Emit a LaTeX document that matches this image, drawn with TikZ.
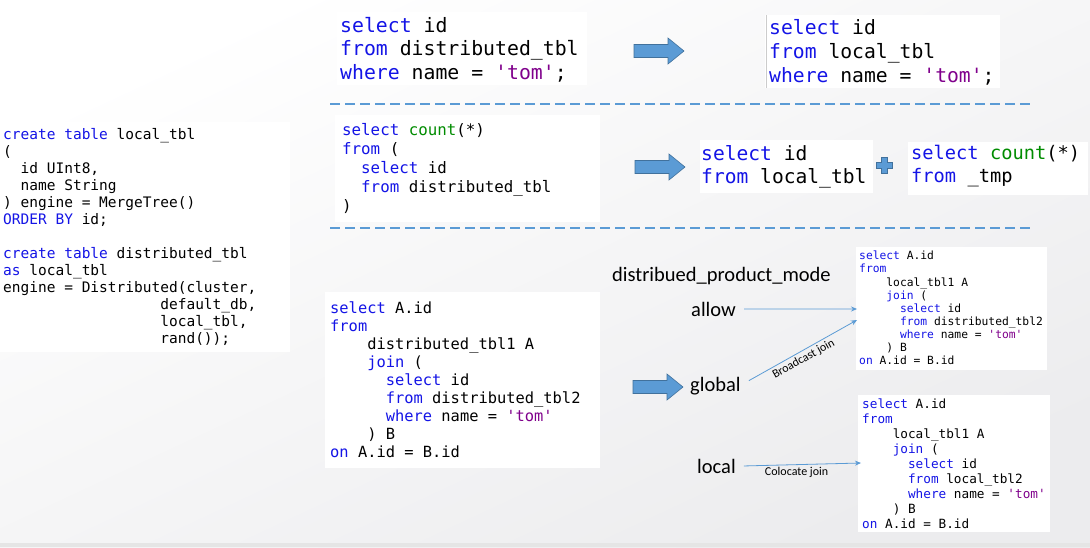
\documentclass[tikz,border=0pt]{standalone}
\usepackage{fontspec}
\newfontfamily\codefont{DejaVu Sans Mono}
\newfontfamily\labelfont{Carlito}
\usetikzlibrary{arrows.meta}
\definecolor{kwblue}{RGB}{20,20,230}
\definecolor{fngreen}{RGB}{0,140,0}
\definecolor{strpurple}{RGB}{128,0,140}
\definecolor{arrowblue}{RGB}{91,155,213}
\definecolor{arrowedge}{RGB}{65,113,156}
\definecolor{bgdark}{RGB}{236,236,238}
\newcommand\kw[1]{\textcolor{kwblue}{#1}}
\newcommand\fn[1]{\textcolor{fngreen}{#1}}
\newcommand\str[1]{\textcolor{strpurple}{\textquotesingle#1\textquotesingle}}
\newcommand\ind[1]{\hspace*{#1\fontcharwd\font`0}}
\newcommand\blockarrow[2]{%
  \draw[fill=arrowblue, draw=arrowedge, line width=0.6pt]
    (#1,{#2-6.5}) -- ({#1+34},{#2-6.5}) -- ({#1+34},{#2-13}) -- ({#1+50},#2)
    -- ({#1+34},{#2+13}) -- ({#1+34},{#2+6.5}) -- (#1,{#2+6.5}) -- cycle;}
\tikzset{
  code/.style={anchor=north west, inner sep=0pt, align=left},
  codebg/.style={fill=white, draw=none},
  lbl/.style={anchor=base west, inner sep=0pt, font={\labelfont\fontsize{20.5}{24}\selectfont}},
  thinarrow/.style={draw=arrowblue, line width=0.8pt, -{Stealth[length=6pt,width=5pt]}},
  joinlbl/.style={inner sep=2.5pt, font={\labelfont\fontsize{12}{14}\selectfont}},
  sepline/.style={draw=arrowblue, line width=1.8pt, dash pattern=on 10pt off 5pt},
}
\begin{document}
\begin{tikzpicture}[x=1pt,y=-1pt]
\useasboundingbox (0,0) rectangle (1090,547);
\shade[shading=axis, top color=white, bottom color=bgdark, shading angle=25] (0,0) rectangle (1090,547);
\fill[gray!20] (0,543) rectangle (1090,547);
% white backgrounds of code blocks
\fill[codebg] (0,122) rectangle (290,352);
\fill[codebg] (337,12) rectangle (587,85);
\fill[codebg] (765,15) rectangle (1000,88);
\draw[gray!40, line width=0.8pt] (766,15) -- (766,88);
\fill[codebg] (335,115) rectangle (600,222);
\fill[codebg] (700,140) rectangle (873,193);
\fill[codebg] (908,142) rectangle (1088,195);
\fill[codebg] (325,292) rectangle (600,468);
\fill[codebg] (856,247) rectangle (1047,370);
\fill[codebg] (858,395) rectangle (1050,532);
% left block
\node[code, font={\codefont\fontsize{14.5}{17}\selectfont}] (create) at (3,128)
{\kw{create} \kw{table} local\_tbl\\
(\\
\ind{2}id UInt8,\\
\ind{2}name String\\
) engine = MergeTree()\\
\kw{ORDER} \kw{BY} id;\\[17pt]
\kw{create} \kw{table} distributed\_tbl\\
\kw{as} local\_tbl\\
engine = Distributed(cluster,\\
\ind{18}default\_db,\\
\ind{18}local\_tbl,\\
\ind{18}rand());};
% row 1
\node[code, font={\codefont\fontsize{19.8}{23.5}\selectfont}] (q1) at (340,17)
{\kw{select} id\\
\kw{from} distributed\_tbl\\
\kw{where} name = \str{tom};};
\node[code, font={\codefont\fontsize{19.7}{24}\selectfont}] (r1) at (769,19)
{\kw{select} id\\
\kw{from} local\_tbl\\
\kw{where} name = \str{tom};};
\blockarrow{634}{51}
% separators
\coordinate (s1a) at (330,104); \coordinate (s1b) at (1030,104);
\coordinate (s2a) at (330,228); \coordinate (s2b) at (1030,228);
\draw[sepline] (s1a) -- (s1b);
\draw[sepline] (s2a) -- (s2b);
% row 2
\node[code, font={\codefont\fontsize{15.8}{19}\selectfont}] (q2) at (342,123)
{\kw{select} \fn{count}(*)\\
\kw{from} (\\
\ind{2}\kw{select} id\\
\ind{2}\kw{from} distributed\_tbl\\
)};
\blockarrow{635}{167}
\node[code, font={\codefont\fontsize{19.6}{23}\selectfont}] (r2a) at (701,145)
{\kw{select} id\\
\kw{from} local\_tbl};
\draw[fill=arrowblue, draw=arrowedge, line width=0.5pt]
  (881,157) -- (887,157) -- (887,162) -- (892,162) -- (892,168) -- (887,168)
  -- (887,173) -- (881,173) -- (881,168) -- (876,168) -- (876,162) -- (881,162) -- cycle;
\node[code, font={\codefont\fontsize{18.7}{23}\selectfont}] (r2b) at (911,145)
{\kw{select} \fn{count}(*)\\
\kw{from} \_tmp};
% row 3
\node[code, font={\codefont\fontsize{15.4}{18}\selectfont}] (q3) at (330,302)
{\kw{select} A.id\\
\kw{from}\\
\ind{4}distributed\_tbl1 A\\
\ind{4}\kw{join} (\\
\ind{6}\kw{select} id\\
\ind{6}\kw{from} distributed\_tbl2\\
\ind{6}\kw{where} name = \str{tom}\\
\ind{4}) B\\
\kw{on} A.id = B.id};
\blockarrow{633}{387}
\node[lbl] (mode) at (612,281) {distribued\_product\_mode};
\node[lbl] (allow) at (691,316) {allow};
\node[lbl] (global) at (690,391) {global};
\node[lbl] (local) at (697,473) {local};
\node[code, font={\codefont\fontsize{11.3}{13.1}\selectfont}] (r3a) at (859,251)
{\kw{select} A.id\\
\kw{from}\\
\ind{4}local\_tbl1 A\\
\ind{4}\kw{join} (\\
\ind{6}\kw{select} id\\
\ind{6}\kw{from} distributed\_tbl2\\
\ind{6}\kw{where} name = \str{tom}\\
\ind{4}) B\\
\kw{on} A.id = B.id};
\node[code, font={\codefont\fontsize{12.7}{15}\selectfont}] (r3b) at (862,399)
{\kw{select} A.id\\
\kw{from}\\
\ind{4}local\_tbl1 A\\
\ind{4}\kw{join} (\\
\ind{6}\kw{select} id\\
\ind{6}\kw{from} local\_tbl2\\
\ind{6}\kw{where} name = \str{tom}\\
\ind{4}) B\\
\kw{on} A.id = B.id};
\coordinate (allowEnd) at (857,309);
\coordinate (globalEnd) at (857,320);
\coordinate (localEnd) at (861,463);
\draw[thinarrow] ([xshift=8pt]allow.east) -- (allowEnd);
\draw[thinarrow] ([xshift=8pt,yshift=5pt]global.east) -- node[joinlbl, sloped, anchor=north, pos=0.47] {Broadcast join} (globalEnd);
\draw[thinarrow] ([xshift=8pt]local.east) -- node[joinlbl, anchor=north, pos=0.45] {Colocate join} (localEnd);
\end{tikzpicture}
\end{document}
